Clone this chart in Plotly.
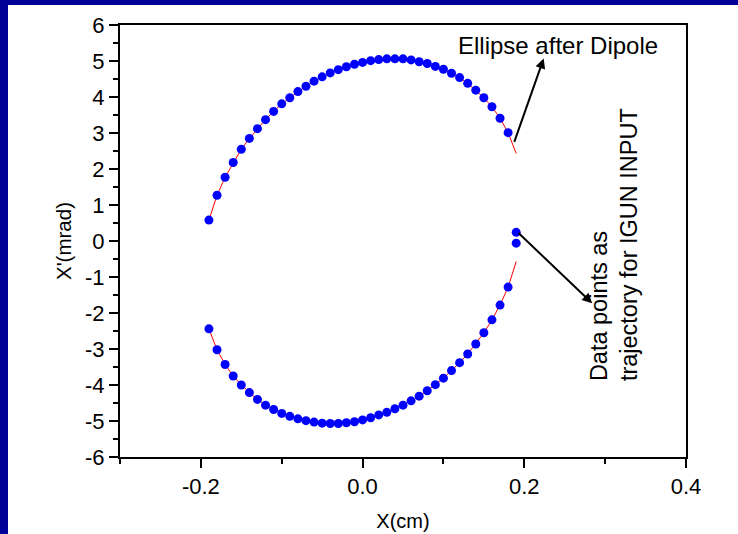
import plotly.graph_objects as go

# Upper branch of the ellipse (blue data points)
x_upper = [-0.19, -0.18, -0.17, -0.16, -0.15, -0.14, -0.13, -0.12, -0.11, -0.10,
           -0.09, -0.08, -0.07, -0.06, -0.05, -0.04, -0.03, -0.02, -0.01, 0.00,
           0.01, 0.02, 0.03, 0.04, 0.05, 0.06, 0.07, 0.08, 0.09, 0.10,
           0.11, 0.12, 0.13, 0.14, 0.15, 0.16, 0.17, 0.18]
y_upper = [0.58, 1.27, 1.77, 2.18, 2.55, 2.85, 3.12, 3.37, 3.60, 3.81,
           3.98, 4.15, 4.30, 4.44, 4.56, 4.67, 4.76, 4.84, 4.91, 4.96,
           5.01, 5.04, 5.06, 5.06, 5.06, 5.03, 4.98, 4.93, 4.85, 4.77,
           4.66, 4.54, 4.38, 4.19, 3.98, 3.73, 3.41, 3.01]

# Lower branch of the ellipse (blue data points)
x_lower = [-0.19, -0.18, -0.17, -0.16, -0.15, -0.14, -0.13, -0.12, -0.11, -0.10,
           -0.09, -0.08, -0.07, -0.06, -0.05, -0.04, -0.03, -0.02, -0.01, 0.00,
           0.01, 0.02, 0.03, 0.04, 0.05, 0.06, 0.07, 0.08, 0.09, 0.10,
           0.11, 0.12, 0.13, 0.14, 0.15, 0.16, 0.17, 0.18]
y_lower = [-2.44, -3.02, -3.43, -3.75, -4.00, -4.21, -4.40, -4.56, -4.68, -4.79,
           -4.87, -4.94, -4.99, -5.03, -5.06, -5.07, -5.07, -5.05, -5.02, -4.97,
           -4.91, -4.83, -4.76, -4.66, -4.56, -4.44, -4.31, -4.16, -3.99, -3.81,
           -3.60, -3.38, -3.14, -2.86, -2.55, -2.19, -1.78, -1.28]

# Two extra points at the right edge
x_extra = [0.19, 0.19]
y_extra = [0.24, -0.06]

# End points of the red ellipse line beyond the last data points
red_end_x = 0.19
red_end_upper = 2.43
red_end_lower = -0.57

# Legend dot
legend_dot_x = [0.299]
legend_dot_y = [-3.78]

# Tick labels
x_tickvals = [-0.2, 0.0, 0.2, 0.4]
x_ticktext = ["-0.2", "0.0", "0.2", "0.4"]
y_tickvals = [-6, -5, -4, -3, -2, -1, 0, 1, 2, 3, 4, 5, 6]
y_ticktext = ["-6", "-5", "-4", "-3", "-2", "-1", "0", "1", "2", "3", "4", "5", "6"]

red_x = x_upper + [red_end_x, None] + x_lower + [red_end_x]
red_y = y_upper + [red_end_upper, None] + y_lower + [red_end_lower]

blue_x = x_upper + x_lower + x_extra
blue_y = y_upper + y_lower + y_extra

FONT = "Liberation Sans, Arial, sans-serif"

fig = go.Figure()
fig.add_trace(go.Scatter(x=red_x, y=red_y, mode="lines",
                         line=dict(color="#ff0000", width=1),
                         connectgaps=False, hoverinfo="skip"))
fig.add_trace(go.Scatter(x=blue_x, y=blue_y, mode="markers",
                         marker=dict(color="#0000ff", size=9, line=dict(width=0))))
fig.add_trace(go.Scatter(x=legend_dot_x, y=legend_dot_y, mode="markers",
                         marker=dict(color="#ff0000", size=2, line=dict(width=0))))

# Annotations
fig.add_annotation(x=0.242, y=5.44, text="Ellipse after Dipole", showarrow=False,
                   font=dict(family=FONT, size=24, color="black"),
                   xanchor="center", yanchor="middle")
fig.add_annotation(x=0.224, y=5.07, ax=0.187, ay=2.71, axref="x", ayref="y",
                   text="", showarrow=True, arrowhead=2, arrowsize=1,
                   arrowwidth=2, arrowcolor="black")
fig.add_annotation(x=0.284, y=-1.73, ax=0.191, ay=0.26, axref="x", ayref="y",
                   text="", showarrow=True, arrowhead=2, arrowsize=1,
                   arrowwidth=2, arrowcolor="black")
fig.add_annotation(x=0.3116, y=-0.1,
                   text="Data points as<br>trajectory for IGUN INPUT",
                   showarrow=False, textangle=-90, align="left",
                   font=dict(family=FONT, size=23.5, color="black"),
                   xanchor="center", yanchor="middle")

# Blue frame strips (left and top)
fig.add_shape(type="rect", xref="paper", yref="paper",
              x0=-120/566, x1=-112/566, y0=-77/432, y1=(432+25)/432,
              fillcolor="#000099", line=dict(width=0), layer="above")
fig.add_shape(type="rect", xref="paper", yref="paper",
              x0=-120/566, x1=(566+52)/566, y0=(432+20)/432, y1=(432+25)/432,
              fillcolor="#000099", line=dict(width=0), layer="above")

axis_common = dict(showgrid=False, zeroline=False, showline=True, linecolor="black",
                   linewidth=2, mirror=True, ticks="outside", ticklen=9,
                   tickwidth=1.5, tickcolor="black",
                   tickfont=dict(family=FONT, size=22, color="black"))

fig.update_xaxes(range=[-0.3, 0.4], tickmode="array",
                 tickvals=x_tickvals, ticktext=x_ticktext,
                 minor=dict(ticks="outside", ticklen=5, tickwidth=1.5, tickcolor="black",
                            dtick=0.1, tick0=-0.3, showgrid=False),
                 title=dict(text="X(cm)", font=dict(family=FONT, size=20, color="black"),
                            standoff=16),
                 **axis_common)
fig.update_yaxes(range=[-6, 6], tickmode="array",
                 tickvals=y_tickvals, ticktext=y_ticktext,
                 minor=dict(ticks="outside", ticklen=5, tickwidth=1.5, tickcolor="black",
                            dtick=0.5, tick0=0, showgrid=False),
                 title=dict(text="X'(mrad)", font=dict(family=FONT, size=20.5, color="black"),
                            standoff=8),
                 **axis_common)

fig.update_layout(width=738, height=534, showlegend=False,
                  margin=dict(l=120, r=52, t=25, b=77, autoexpand=False),
                  paper_bgcolor="white", plot_bgcolor="white",
                  font=dict(family=FONT))

fig.write_html("out.html")
